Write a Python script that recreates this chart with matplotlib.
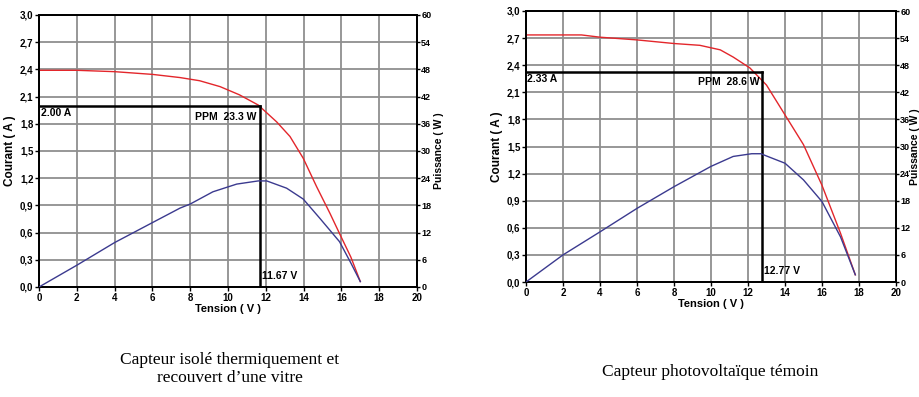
import matplotlib.pyplot as plt
import numpy as np

# left panel: insulated, glass-covered module
v_iso = [0, 2, 4, 6, 7.46, 8.5, 9.58, 10.6, 11.6, 12.58, 13.28, 13.98, 14.69, 15.4, 15.9, 16.5, 17]
i_iso = [2.39, 2.39, 2.375, 2.345, 2.31, 2.275, 2.21, 2.12, 2.007, 1.82, 1.66, 1.42, 1.106, 0.81, 0.59, 0.33, 0.06]

vp_iso = [0, 2, 4, 6, 7.46, 8.0, 9.2, 10.46, 11.6, 12.05, 13.1, 13.98, 14.87, 15.9, 16.5, 17]
p_iso = [0, 4.8, 9.8, 14.2, 17.4, 18.3, 21.0, 22.7, 23.4, 23.4, 21.8, 19.4, 15.1, 10.0, 5.3, 1.2]

# right panel: reference PV module
v_ref = [0, 3, 4, 6, 8, 9.4, 10.5, 11.2, 12.1, 13.0, 14.0, 15.0, 16.0, 17.0, 17.8]
i_ref = [2.735, 2.735, 2.71, 2.68, 2.64, 2.62, 2.57, 2.49, 2.37, 2.18, 1.85, 1.52, 1.07, 0.54, 0.08]

vp_ref = [0, 2, 4, 6, 8, 10, 11.2, 12.2, 12.7, 13.0, 14.0, 15.0, 16.0, 17.0, 17.8]
p_ref = [0, 6.0, 11.1, 16.3, 21.1, 25.6, 27.8, 28.4, 28.4, 27.9, 26.3, 22.6, 17.8, 10.0, 1.6]

ppm_v = [11.67, 12.77]
ppm_i = [2.00, 2.33]
ppm_p = [23.3, 28.6]

captions = ["Capteur isolé thermiquement et\nrecouvert d\u2019une vitre",
            "Capteur photovoltaïque témoin"]

sans = ['Liberation Sans', 'DejaVu Sans']
serif = ['Liberation Serif', 'DejaVu Serif']

fig = plt.figure(figsize=(9.2, 3.97), dpi=100)

panels = [
    ([39/920, 1-287/397, 378/920, 272/397], v_iso, i_iso, vp_iso, p_iso, 0, 1.045),
    ([526/920, 1-282/397, 370/920, 271/397], v_ref, i_ref, vp_ref, p_ref, 1, 1.037),
]

for rect, v, i, vp, p, k, rx in panels:
    ax = fig.add_axes(rect)
    ax2 = ax.twinx()
    ax.set_xlim(0, 20)
    ax.set_ylim(0, 3.0)
    ax2.set_ylim(0, 60)
    ax.set_xticks(np.arange(0, 21, 2))
    yt = np.arange(0, 3.01, 0.3)
    ax.set_yticks(yt)
    ax2.set_yticks(np.arange(0, 61, 6))
    ax.set_yticklabels([f"{t:.1f}".replace('.', ',') for t in yt])
    ax.grid(True, color='#8f8f8f', lw=1.3)
    for a in (ax, ax2):
        for s in a.spines.values():
            s.set_linewidth(1.3)
        a.tick_params(length=3, width=1, labelsize=7, pad=1)
        for lab in a.get_xticklabels() + a.get_yticklabels():
            lab.set_family(sans)
            lab.set_fontweight('bold')
    ax2.tick_params(length=2.5, labelsize=6.5, pad=0.5)

    ax.plot(v, i, color='#e3262b', lw=1.0, zorder=3)
    ax2.plot(vp, p, color='#3b3a8f', lw=1.0, zorder=3)

    # maximum power point guides
    vm, im = ppm_v[k], ppm_i[k]
    ax.plot([0, vm], [im, im], color='black', lw=1.8, zorder=4)
    ax.plot([vm, vm], [0, im], color='black', lw=1.8, zorder=4)
    ax.text(0.08, im - 0.08, f"{im:.2f} A", ha='left', va='center',
            fontsize=7.5, fontweight='bold', family=sans)
    ax.text(vm - 0.15, im - 0.12, f"PPM  {ppm_p[k]} W", ha='right', va='center',
            fontsize=7.5, fontweight='bold', family=sans)
    ax.text(vm + 0.12, 0.12, f"{vm:.2f} V", ha='left', va='center',
            fontsize=7.5, fontweight='bold', family=sans)

    ax.set_xlabel("Tension ( V )", fontsize=8, fontweight='bold', family=sans, labelpad=1)
    ax.set_ylabel("Courant ( A )", fontsize=8.5, fontweight='bold', family=sans, labelpad=3)
    ax2.set_ylabel("Puissance ( W )", fontsize=7.5, fontweight='bold', family=sans)
    ax2.yaxis.set_label_coords(rx, 0.5)

fig.text(230/920, 1-369/397, captions[0], ha='center', va='center',
         fontsize=12.5, family=serif, linespacing=1.2)
fig.text(710/920, 1-372/397, captions[1], ha='center', va='center',
         fontsize=12.5, family=serif)

fig.savefig('out.png', dpi=100)
